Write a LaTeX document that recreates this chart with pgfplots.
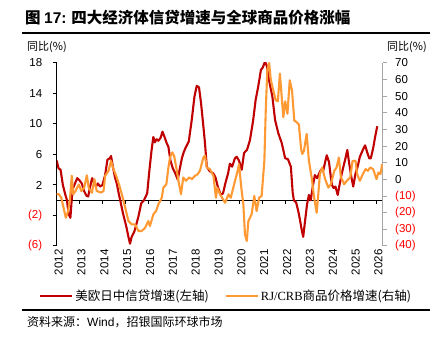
\documentclass[border=0pt]{standalone}
\usepackage{fontspec}
\setmainfont{Liberation Sans}
\newfontfamily\cjk{Noto Sans CJK SC}
\newfontfamily\serif{Liberation Serif}
\usepackage{pgfplots}
\usepackage{pgfplotstable}
\pgfplotsset{compat=1.18}
\definecolor{cred}{RGB}{192,0,0}
\definecolor{corange}{RGB}{255,153,51}
\definecolor{axgray}{RGB}{166,166,166}
\definecolor{negred}{RGB}{255,0,0}

\pgfplotstableread{
x y
2012.00 5.2
2012.08 4.2
2012.17 4.0
2012.27 2.0
2012.37 0.8
2012.45 0.0
2012.52 -1.8
2012.60 -2.3
2012.66 0.2
2012.72 1.6
2012.80 2.2
2012.90 2.9
2013.00 2.6
2013.10 2.2
2013.20 1.2
2013.30 0.6
2013.38 0.5
2013.45 1.6
2013.55 2.9
2013.65 2.2
2013.72 1.8
2013.80 2.2
2013.90 1.8
2014.00 2.0
2014.12 3.3
2014.22 5.3
2014.32 5.5
2014.38 5.8
2014.46 4.4
2014.55 3.0
2014.63 2.2
2014.72 0.8
2014.78 0.0
2014.90 -1.7
2015.05 -3.5
2015.14 -4.8
2015.21 -5.7
2015.28 -4.8
2015.40 -4.1
2015.50 -3.0
2015.58 -2.1
2015.70 -0.4
2015.82 0.0
2015.96 0.9
2016.06 4.0
2016.15 6.5
2016.23 8.3
2016.30 7.6
2016.37 8.0
2016.45 7.8
2016.55 8.2
2016.63 9.0
2016.72 8.3
2016.80 7.6
2016.89 7.0
2016.98 5.2
2017.08 4.2
2017.18 3.6
2017.30 2.7
2017.38 4.0
2017.48 5.5
2017.56 6.3
2017.66 7.0
2017.78 7.7
2017.91 10.5
2018.03 13.6
2018.13 15.0
2018.23 14.8
2018.32 12.7
2018.42 9.7
2018.49 7.5
2018.57 4.4
2018.70 3.8
2018.86 3.5
2018.95 3.0
2019.05 1.8
2019.18 0.7
2019.28 0.9
2019.38 2.2
2019.50 3.5
2019.58 4.8
2019.68 4.4
2019.80 5.5
2019.88 5.7
2019.98 5.2
2020.10 4.0
2020.20 6.2
2020.33 6.6
2020.46 7.9
2020.60 10.5
2020.71 13.2
2020.82 14.9
2020.94 17.1
2021.02 17.4
2021.12 18.2
2021.20 17.6
2021.29 15.8
2021.44 13.6
2021.56 10.5
2021.70 8.8
2021.85 7.5
2022.00 5.5
2022.12 5.4
2022.25 4.4
2022.33 1.0
2022.38 0.0
2022.48 -0.3
2022.58 -1.5
2022.65 -2.6
2022.72 -3.8
2022.79 -4.8
2022.88 -2.5
2022.96 -0.5
2023.04 0.7
2023.12 0.0
2023.22 2.0
2023.30 3.3
2023.40 2.9
2023.50 3.6
2023.57 4.0
2023.66 3.8
2023.75 5.0
2023.82 5.9
2023.92 5.0
2024.00 3.0
2024.05 2.0
2024.12 1.6
2024.20 1.8
2024.30 0.7
2024.38 2.0
2024.48 3.5
2024.55 4.4
2024.64 5.5
2024.72 6.6
2024.80 4.9
2024.90 3.0
2024.98 1.8
2025.08 3.5
2025.18 4.5
2025.27 5.7
2025.40 6.6
2025.50 7.2
2025.60 6.2
2025.68 5.5
2025.75 5.5
2025.85 6.8
2025.95 8.5
2026.03 9.7
}\credit

\pgfplotstableread{
x y
2012.00 -8.9
2012.10 -8.9
2012.20 -11
2012.30 -17
2012.40 -23
2012.50 -19
2012.58 -12
2012.66 2.2
2012.72 -8.9
2012.82 -7
2012.97 -3
2013.08 -7
2013.20 -5
2013.32 2.5
2013.40 -5
2013.54 -8
2013.65 0.2
2013.75 -6.9
2013.94 -7.9
2014.05 -6.9
2014.12 2.2
2014.27 5.2
2014.38 11.2
2014.46 7.3
2014.55 4
2014.63 1.2
2014.75 -4
2014.85 -8.9
2015.00 -17
2015.14 -25
2015.29 -27
2015.43 -27
2015.58 -31
2015.72 -31
2015.87 -29
2016.01 -25
2016.08 -28
2016.23 -21
2016.35 -19
2016.45 -15
2016.60 -11
2016.67 -4.9
2016.80 -2.9
2016.89 7.2
2016.96 13.2
2017.06 16.3
2017.14 14.2
2017.26 5.2
2017.33 -0.8
2017.44 -8.9
2017.54 1.2
2017.66 -0.8
2017.80 1.2
2017.92 0.2
2018.05 2.2
2018.16 3
2018.27 5.2
2018.42 13.2
2018.49 14.3
2018.57 7.2
2018.70 6.2
2018.86 2.2
2018.97 -11
2019.03 -5
2019.15 -8.9
2019.37 -14
2019.52 -8.9
2019.62 -11
2019.73 -4.9
2019.92 5.2
2019.98 9.2
2020.08 -4.9
2020.17 -15
2020.24 -33
2020.32 -37
2020.39 -25
2020.53 -21
2020.65 -9.9
2020.75 -19
2020.86 -11
2020.97 -9.9
2021.09 11.2
2021.15 41
2021.22 66
2021.30 70
2021.37 60
2021.48 53.5
2021.59 47.5
2021.68 47
2021.77 63.6
2021.85 49.5
2021.92 37.4
2022.00 47
2022.10 39.5
2022.20 59.6
2022.30 53.5
2022.40 35.4
2022.50 34.5
2022.60 33
2022.70 18
2022.75 15.3
2022.82 17
2022.94 27.4
2023.04 11.2
2023.16 1.2
2023.27 -11
2023.38 -20
2023.45 -8.9
2023.52 3.2
2023.62 7.2
2023.75 0.2
2023.89 -4.9
2024.00 -2.9
2024.15 5.2
2024.25 7.2
2024.35 13.2
2024.44 1.2
2024.52 -0.8
2024.58 -2.9
2024.70 -0.8
2024.85 1.2
2024.95 11.2
2025.08 11.2
2025.15 3.2
2025.27 -0.8
2025.40 3.2
2025.52 6.2
2025.62 5.2
2025.72 7.2
2025.85 6.2
2026.00 0.2
2026.08 4.2
2026.17 3.2
2026.25 9.2
}\crb

\begin{document}
\begin{tikzpicture}[x=1pt,y=1pt]
\path[use as bounding box] (0,0) rectangle (435,342);
\node[anchor=west, inner sep=0] at (25,324) {\cjk\fontsize{15.5}{18}\selectfont\bfseries 图 {\rmfamily\bfseries 17:} 四大经济体信贷增速与全球商品价格涨幅};
\draw[line width=2pt] (22,309) -- (430,309);
\node[anchor=west, inner sep=0] at (27,295.3) {\cjk\fontsize{11}{13}\selectfont 同比(\%)};
\node[anchor=east, inner sep=0] at (427,295.3) {\cjk\fontsize{11}{13}\selectfont 同比(\%)};
\draw[line width=2pt] (22,32) -- (430,32);
\node[anchor=west, inner sep=0] at (27,20) {\cjk\fontsize{12}{14}\selectfont 资料来源：{\rmfamily Wind}，招银国际环球市场};

\begin{axis}[at={(56.7pt,96pt)}, anchor=south west, width=326pt, height=183pt, scale only axis,
  xmin=2012, xmax=2026.27, ymin=-6, ymax=18,
  axis x line=middle, axis y line=left,
  x axis line style={-, black, line width=1.2pt},
  y axis line style={-, black, line width=1.2pt},
  xtick={2012,...,2026}, xticklabels={},
  xtick align=outside, ytick align=outside,
  major tick length=4pt,
  tick style={black, line width=1pt},
  ytick={-6,-2,2,6,10,14,18},
  yticklabels={\textcolor{negred}{(6)},\textcolor{negred}{(2)},2,6,10,14,18},
  yticklabel style={font=\fontsize{11.5}{13}\selectfont, xshift=-7pt},
  /pgf/number format/assume math mode=true,
]
\addplot[cred, line width=2.1pt, line join=round] table[x=x,y=y] {\credit};
\end{axis}

\begin{axis}[at={(56.7pt,96pt)}, anchor=south west, width=326pt, height=183pt, scale only axis,
  xmin=2012, xmax=2026.27, ymin=-40, ymax=70,
  axis y line*=right, axis x line*=bottom,
  x axis line style={draw=none},
  xtick={2012,...,2026},
  xticklabels={2012,2013,2014,2015,2016,2017,2018,2019,2020,2021,2022,2023,2024,2025,2026},
  xticklabel style={rotate=90, anchor=east, font=\fontsize{11.5}{13}\selectfont, yshift=-2pt},
  x tick style={draw=none},
  y axis line style={-, axgray, line width=1pt},
  ytick={-40,-30,...,70},
  yticklabels={\textcolor{negred}{(40)},\textcolor{negred}{(30)},\textcolor{negred}{(20)},\textcolor{negred}{(10)},0,10,20,30,40,50,60,70},
  ytick align=outside, major tick length=4pt,
  y tick style={axgray, line width=1pt},
  yticklabel style={font=\fontsize{11.5}{13}\selectfont, xshift=5pt},
  /pgf/number format/assume math mode=true,
  legend style={at={(0.52,-0.273)}, anchor=center, draw=none, fill=none,
    font=\cjk\fontsize{12.5}{14}\selectfont,
    /tikz/every even column/.append style={column sep=14pt}},
  legend columns=2,
  legend image code/.code={\draw[#1] (0pt,0pt) -- (32pt,0pt);},
]
\addlegendimage{cred, line width=2.1pt}
\addlegendentry{美欧日中信贷增速(左轴)}
\addplot[corange, line width=2.1pt, line join=round] table[x=x,y=y] {\crb};
\addlegendentry{{\serif RJ/CRB}商品价格增速(右轴)}
\end{axis}
\end{tikzpicture}
\end{document}
